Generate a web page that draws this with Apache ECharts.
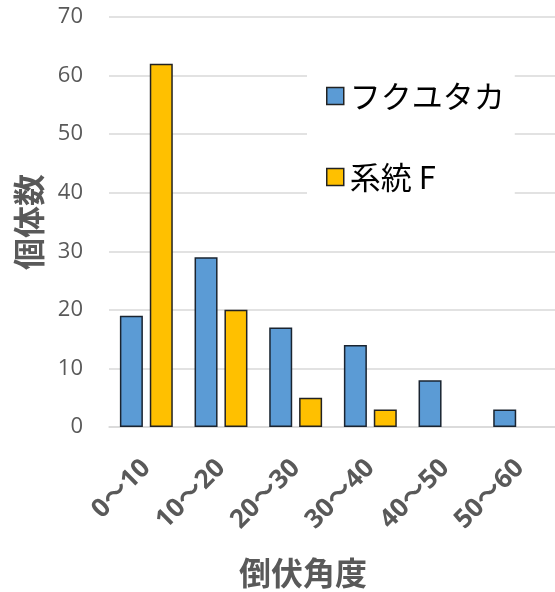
<!DOCTYPE html>
<html><head><meta charset="utf-8">
<script src="https://cdn.jsdelivr.net/npm/echarts@6/dist/echarts.min.js"></script>
<style>html,body{margin:0;padding:0;background:#fff}#c{width:555px;height:592px}</style>
</head><body><div id="c"></div>
<script>
const categories = ['0〜10','10〜20','20〜30','30〜40','40〜50','50〜60'];
const seriesNames = ['フクユタカ','系統 F'];
const fukuyutaka = [19, 29, 17, 14, 8, 3];
const keitouF = [62, 20, 5, 3, 0, 0];
const yTicks = {min: 0, max: 70, interval: 10};
const xName = '倒伏角度';
const yName = '個体数';

const font = '"Noto Sans CJK JP", "Noto Sans", sans-serif';
const numFont = '"Open Sans", "Noto Sans CJK JP", sans-serif';
function toItems(arr) {
  return arr.map(v => v === 0 ? {value: v, itemStyle: {borderWidth: 0}} : v);
}
const chart = echarts.init(document.getElementById('c'), null, {renderer: 'canvas'});
chart.setOption({
  animation: false,
  backgroundColor: '#fff',
  grid: {left: 109, top: 17, width: 448, height: 410, containLabel: false, outerBoundsMode: 'none'},
  legend: {
    orient: 'vertical', left: 307, top: 66,
    backgroundColor: '#fff',
    padding: [12, 10, 12, 19],
    itemWidth: 17, itemHeight: 17, itemGap: 45,
    icon: 'rect',
    itemStyle: {borderColor: '#222', borderWidth: 1.5},
    textStyle: {fontSize: 31, color: '#000', fontFamily: font, lineHeight: 36, padding: [0,0,0,1]},
    data: seriesNames
  },
  xAxis: {
    type: 'category', data: categories,
    name: xName, nameLocation: 'middle', nameGap: 130,
    nameTextStyle: {fontSize: 32, fontWeight: 'bold', color: '#595959', fontFamily: font, padding: [0, 60, 0, 0]},
    axisLine: {show: true, lineStyle: {color: '#d9d9d9', width: 1.5}},
    axisTick: {show: false},
    axisLabel: {rotate: 45, margin: 37, fontSize: 26, fontWeight: 'bold', color: '#595959', fontFamily: numFont, interval: 0}
  },
  yAxis: {
    type: 'value', min: yTicks.min, max: yTicks.max, interval: yTicks.interval,
    name: yName, nameLocation: 'middle', nameGap: 64, nameRotate: 90,
    nameTextStyle: {fontSize: 32, fontWeight: 'bold', color: '#595959', fontFamily: font},
    axisLine: {show: false}, axisTick: {show: false},
    axisLabel: {margin: 26, fontSize: 22, color: '#595959', fontFamily: numFont},
    splitLine: {lineStyle: {color: '#d9d9d9', width: 1.5}}
  },
  series: [
    {name: seriesNames[0], type: 'bar', data: toItems(fukuyutaka), barWidth: 23, barGap: '30%',
     itemStyle: {color: '#5b9bd5', borderColor: '#1a2430', borderWidth: 1.5}},
    {name: seriesNames[1], type: 'bar', data: toItems(keitouF), barWidth: 23, barGap: '30%',
     itemStyle: {color: '#ffc000', borderColor: '#222', borderWidth: 1.5}}
  ]
});
</script></body></html>
